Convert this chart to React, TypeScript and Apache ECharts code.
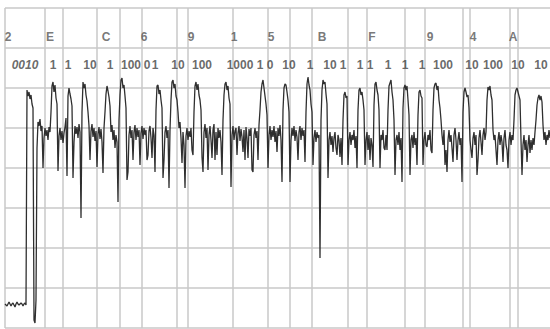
import React, { useEffect, useRef } from "react";
import * as echarts from "echarts";

// Signal trace, one reading per sample (sample 0 .. 545), in signal units (40 units per grid row)
const trace: number[] = [
  24, 23, 22, 24, 26, 24, 22, 24, 25, 23,
  21, 24, 26, 24, 23, 24, 25, 24, 22, 24,
  25, 23, 238, 232, 236, 229, 233, 224, 220, 8,
  5, 28, 180, 206, 202, 209, 197, 202, 160, 190,
  200, 192, 198, 188, 201, 196, 216, 242, 246, 236,
  243, 230, 224, 157, 192, 200, 188, 197, 185, 195,
  201, 210, 152, 232, 240, 234, 229, 222, 150, 186,
  202, 194, 201, 190, 204, 196, 110, 216, 246, 240,
  244, 233, 227, 216, 202, 168, 197, 204, 191, 200,
  187, 197, 161, 194, 201, 189, 199, 186, 155, 200,
  216, 234, 242, 237, 231, 222, 196, 203, 188, 198,
  180, 193, 186, 126, 208, 233, 248, 250, 240, 243,
  232, 220, 148, 156, 193, 202, 190, 198, 168, 196,
  203, 188, 200, 191, 198, 163, 195, 202, 189, 200,
  193, 198, 168, 173, 197, 202, 190, 170, 200, 193,
  156, 218, 242, 243, 234, 238, 228, 220, 150, 168,
  196, 202, 190, 198, 140, 198, 228, 246, 248, 240,
  244, 232, 228, 216, 200, 206, 190, 165, 196, 183,
  140, 192, 200, 188, 197, 191, 200, 178, 173, 216,
  242, 246, 238, 244, 233, 228, 218, 171, 156, 196,
  204, 190, 200, 158, 193, 202, 188, 170, 198, 204,
  168, 196, 173, 200, 190, 198, 186, 153, 208, 233,
  244, 246, 238, 242, 230, 224, 141, 193, 202, 188,
  197, 200, 173, 195, 202, 187, 199, 191, 176, 198,
  168, 201, 190, 170, 199, 192, 200, 158, 156, 193,
  200, 190, 197, 168, 203, 218, 236, 244, 248, 240,
  232, 224, 213, 160, 193, 202, 188, 198, 191, 202,
  186, 197, 176, 200, 192, 203, 188, 146, 218, 240,
  244, 243, 236, 228, 216, 146, 188, 200, 192, 202,
  187, 198, 191, 168, 196, 202, 188, 200, 192, 198,
  166, 216, 244, 251, 243, 238, 224, 216, 163, 190,
  198, 186, 196, 190, 193, 70, 208, 238, 248, 244,
  246, 234, 224, 150, 188, 196, 183, 192, 176, 190,
  196, 180, 173, 193, 188, 171, 190, 163, 208, 233,
  236, 230, 232, 163, 188, 196, 183, 193, 188, 198,
  180, 192, 160, 218, 238, 240, 233, 236, 228, 218,
  163, 188, 196, 178, 193, 168, 190, 183, 161, 223,
  244, 246, 238, 233, 218, 160, 193, 188, 198, 180,
  178, 193, 178, 218, 242, 245, 248, 236, 228, 208,
  153, 188, 193, 183, 196, 178, 190, 146, 220, 240,
  243, 238, 242, 228, 213, 153, 188, 193, 180, 196,
  183, 190, 163, 213, 236, 238, 232, 230, 163, 188,
  196, 183, 181, 193, 188, 198, 178, 175, 218, 240,
  244, 245, 238, 242, 228, 220, 208, 193, 183, 198,
  163, 178, 156, 188, 198, 186, 193, 180, 166, 193,
  200, 188, 168, 188, 196, 183, 190, 146, 216, 236,
  240, 236, 231, 233, 220, 188, 178, 170, 190, 196,
  183, 193, 153, 168, 190, 198, 186, 173, 193, 200,
  188, 196, 228, 241, 238, 242, 233, 228, 198, 188,
  193, 178, 163, 188, 196, 183, 193, 186, 166, 190,
  198, 183, 178, 160, 188, 196, 183, 193, 188, 208,
  233, 238, 240, 236, 232, 228, 188, 153, 183, 193,
  178, 188, 166, 183, 193, 175, 188, 178, 190, 183,
  196, 208, 223, 230, 233, 228, 232, 226, 203, 188,
  196, 183, 193, 188, 198, 190,
];

// Bit / nibble boundaries (sample index)
const bitBoundaries: number[] = [0, 40, 58, 92, 115, 137, 172, 183, 228, 263, 285, 307, 343, 362, 400, 420, 458, 465, 505, 513];

// Hex row
const hexLabels: string[] = ["2", "E", "C", "6", "9", "1", "5", "B", "F", "9", "4", "A"];
const hexPositions: number[] = [3, 45, 101, 139, 186, 229, 266, 317, 367, 425, 468, 508];
const hexRowLevel = 291;

// Binary row
const bitLabels: string[] = ["0010", "1", "1", "10", "1", "100", "0", "1", "10", "100", "1000", "1", "0", "10", "1", "10", "1", "1", "1", "1", "1", "1", "100", "10", "100", "10", "10"];
const bitPositions: number[] = [20, 48, 63, 85, 105, 126, 142, 150, 173, 197, 235, 255, 265, 284, 305, 325, 338, 355, 365, 383, 400, 417, 438, 467, 488, 513, 536];
const bitRowLevel = 263;

const GRID_COLOR = "#c8c8c8";
const FONT = "'Liberation Sans', Arial, sans-serif";

export default function App() {
  const ref = useRef<HTMLDivElement>(null);

  useEffect(() => {
    if (!ref.current) return;
    const chart = echarts.init(ref.current, null, { renderer: "svg" });

    const hexData = hexLabels.map((name, i) => ({ name, value: [hexPositions[i], hexRowLevel] }));
    const bitData = bitLabels.map((name, i) => ({
      name,
      value: [bitPositions[i], bitRowLevel],
      label: i === 0 ? { fontStyle: "italic" as const } : undefined,
    }));

    chart.setOption({
      animation: false,
      backgroundColor: "#ffffff",
      grid: { left: 5, right: 0, top: 8, height: 320, containLabel: false },
      xAxis: {
        type: "value",
        min: 0,
        max: 545,
        axisLine: { show: false },
        axisTick: { show: false },
        axisLabel: { show: false },
        splitLine: { show: false },
      },
      yAxis: {
        type: "value",
        min: 0,
        max: 320,
        interval: 40,
        axisLine: { show: false },
        axisTick: { show: false },
        axisLabel: { show: false },
        splitLine: { show: true, lineStyle: { color: GRID_COLOR, width: 1.5 } },
      },
      series: [
        {
          type: "line",
          data: trace.map((v, i) => [i, v]),
          showSymbol: false,
          symbol: "none",
          silent: true,
          lineStyle: { color: "#2f2f2f", width: 1.3 },
          z: 3,
          markLine: {
            silent: true,
            symbol: ["none", "none"],
            label: { show: false },
            lineStyle: { color: GRID_COLOR, width: 1.5, type: "solid" },
            data: bitBoundaries.map((b) => ({ xAxis: b })),
            z: 1,
          },
        },
        {
          type: "scatter",
          data: hexData,
          symbolSize: 1,
          itemStyle: { color: "transparent" },
          silent: true,
          label: {
            show: true,
            position: "inside",
            formatter: "{b}",
            color: "#555555",
            fontSize: 12,
            fontWeight: "bold",
            fontFamily: FONT,
          },
          z: 5,
        },
        {
          type: "scatter",
          data: bitData,
          symbolSize: 1,
          itemStyle: { color: "transparent" },
          silent: true,
          label: {
            show: true,
            position: "inside",
            formatter: "{b}",
            color: "#444444",
            fontSize: 12,
            fontWeight: "bold",
            fontFamily: FONT,
          },
          z: 5,
        },
      ],
    });

    return () => chart.dispose();
  }, []);

  return (
    <div
      ref={ref}
      style={{ position: "absolute", left: 0, top: 0, width: 550, height: 329, background: "#fff" }}
    />
  );
}
